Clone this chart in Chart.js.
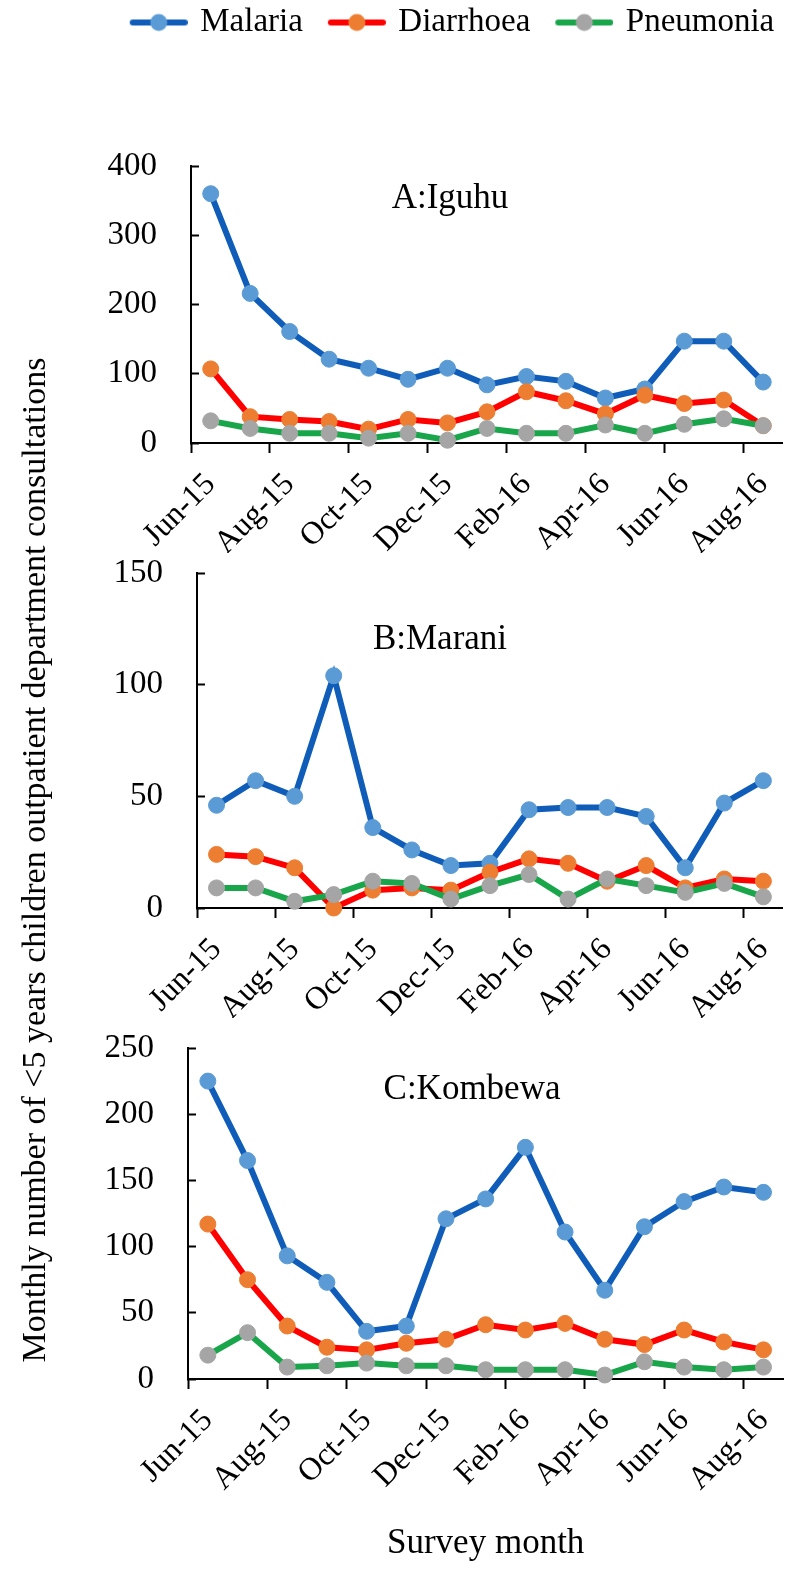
<!DOCTYPE html>
<html>
<head>
<meta charset="utf-8">
<title>Monthly outpatient consultations</title>
<script src="https://cdn.jsdelivr.net/npm/chart.js@4.4.0/dist/chart.umd.min.js"></script>
<style>
  html, body { margin: 0; padding: 0; background: #fff; }
  #page { position: relative; width: 804px; height: 1581px; overflow: hidden; }
  #page canvas { position: absolute; left: 0; top: 0; }
  #yTitle {
    position: absolute; left: -515px; top: 840px; width: 1100px; height: 40px;
    line-height: 40px; text-align: center; white-space: nowrap; color: #000;
    font: 34px "Liberation Serif", "Times New Roman", serif;
    transform: rotate(-90deg);
  }
</style>
</head>
<body>
<div id="page">
  <canvas id="chartA" width="804" height="1581"></canvas>
  <canvas id="chartB" width="804" height="1581"></canvas>
  <canvas id="chartC" width="804" height="1581"></canvas>
  <div id="yTitle">Monthly number of &lt;5 years children outpatient department consultations</div>
</div>
<script>
// Data
const months = ["Jun-15", "Jul-15", "Aug-15", "Sep-15", "Oct-15", "Nov-15", "Dec-15", "Jan-16",
  "Feb-16", "Mar-16", "Apr-16", "May-16", "Jun-16", "Jul-16", "Aug-16"];
const seriesNames = ["Malaria", "Diarrhoea", "Pneumonia"];

const iguhuMalaria = [360, 216, 161, 121, 108, 92, 108, 84, 96, 89, 65, 78, 147, 147, 88];
const iguhuDiarrhoea = [107, 38, 34, 31, 20, 34, 29, 45, 74, 61, 42, 69, 57, 62, 25];
const iguhuPneumonia = [32, 21, 14, 14, 7, 14, 4, 21, 14, 14, 26, 14, 27, 35, 25];

const maraniMalaria = [46, 57, 50, 104, 36, 26, 19, 20, 44, 45, 45, 41, 18, 47, 57];
const maraniDiarrhoea = [24, 23, 18, 0, 8, 9, 8, 16, 22, 20, 12, 19, 9, 13, 12];
const maraniPneumonia = [9, 9, 3, 6, 12, 11, 4, 10, 15, 4, 13, 10, 7, 11, 5];

const kombewaMalaria = [225, 165, 93, 73, 36, 40, 121, 136, 175, 111, 67, 115, 134, 145, 141];
const kombewaDiarrhoea = [117, 75, 40, 24, 22, 27, 30, 41, 37, 42, 30, 26, 37, 28, 22];
const kombewaPneumonia = [18, 35, 9, 10, 12, 10, 10, 7, 7, 7, 3, 13, 9, 7, 9];

// Styles
const lineColors = ["#0F5DB8", "#FF0000", "#19A64A"];
const markerColors = ["#5B9BD5", "#ED7D31", "#A5A5A5"];
const serif = '"Liberation Serif", "Times New Roman", serif';

Chart.defaults.font.family = serif;
Chart.defaults.color = "#000";

// legend symbol: line with a marker in the middle
function legendIcon(k) {
  const c = document.createElement("canvas");
  c.width = 81;
  c.height = 20;
  const g = c.getContext("2d");
  g.strokeStyle = lineColors[k];
  g.lineWidth = 6;
  g.lineCap = "round";
  g.beginPath();
  g.moveTo(26, 10);
  g.lineTo(78, 10);
  g.stroke();
  g.fillStyle = markerColors[k];
  g.beginPath();
  g.arc(52, 10, 8.5, 0, Math.PI * 2);
  g.fill();
  return c;
}
const icons = [0, 1, 2].map(legendIcon);

// panel name inside the plot area
const panelLabel = {
  id: "panelLabel",
  beforeDatasetsDraw(chart, args, opts) {
    const ctx = chart.ctx;
    ctx.save();
    ctx.font = "35px " + serif;
    ctx.fillStyle = "#000";
    ctx.textAlign = "center";
    ctx.textBaseline = "middle";
    ctx.fillText(opts.text, opts.x, opts.y);
    ctx.restore();
  },
};

function series(k, data) {
  return {
    label: seriesNames[k],
    data: data,
    borderColor: lineColors[k],
    backgroundColor: markerColors[k],
    pointBackgroundColor: markerColors[k],
    pointBorderColor: markerColors[k],
    pointBorderWidth: 1,
    pointRadius: 8,
    borderWidth: 6,
    tension: 0,
    order: 3 - k,
    clip: false,
  };
}

const everyOther = (c) => (c.index % 2 === 0 && c.index < months.length ? "#000" : "rgba(0,0,0,0)");

function drawPanel(id, p) {
  return new Chart(document.getElementById(id), {
    type: "line",
    data: {
      labels: months,
      datasets: [series(0, p.malaria), series(1, p.diarrhoea), series(2, p.pneumonia)],
    },
    options: {
      responsive: false,
      animation: false,
      events: [],
      devicePixelRatio: 1,
      layout: { padding: p.padding },
      plugins: {
        tooltip: { enabled: false },
        legend: {
          display: !!p.legend,
          position: "top",
          labels: {
            usePointStyle: true,
            pointStyleWidth: 73,
            padding: 6,
            color: "#000",
            font: { size: 33 },
            generateLabels: (chart) =>
              Chart.defaults.plugins.legend.labels.generateLabels(chart).map((item) =>
                Object.assign(item, { pointStyle: icons[item.datasetIndex] })),
            sort: (a, b) => a.datasetIndex - b.datasetIndex,
          },
        },
        // empty title used as a spacer between legend and plot
        title: {
          display: !!p.legend,
          text: "",
          weight: 500,
          font: { size: 10 },
          padding: { top: 0, bottom: 105 },
        },
        panelLabel: p.label,
      },
      scales: {
        x: {
          type: "category",
          offset: true,
          ticks: {
            autoSkip: false,
            minRotation: 45,
            maxRotation: 45,
            padding: 13,
            color: "#000",
            font: { size: 32 },
            callback: function (v, i) {
              return i % 2 === 0 ? this.getLabelForValue(v) : "";
            },
          },
          grid: {
            offset: true,
            drawOnChartArea: false,
            tickLength: 10,
            tickWidth: 2,
            color: everyOther,
            tickColor: everyOther,
          },
          border: { display: true, color: "#000", width: 2 },
          title: {
            display: !!p.xTitle,
            text: "Survey month",
            color: "#000",
            font: { size: 35 },
            padding: { top: 0, bottom: 0 },
          },
          afterFit: (s) => { s.height = p.xHeight; },
        },
        y: {
          min: 0,
          max: p.yMax,
          ticks: { stepSize: p.yStep, padding: 42, color: "#000", font: { size: 33 } },
          grid: { drawOnChartArea: false, tickLength: -8, tickWidth: 2, color: "#000" },
          border: { display: true, color: "#000", width: 2 },
          afterFit: (s) => { s.width = p.yWidth; },
        },
      },
    },
    plugins: [panelLabel],
  });
}

// A: Iguhu
drawPanel("chartA", {
  malaria: iguhuMalaria,
  diarrhoea: iguhuDiarrhoea,
  pneumonia: iguhuPneumonia,
  yMax: 400,
  yStep: 100,
  legend: true,
  xHeight: 110,
  yWidth: 91,
  padding: { top: 0, left: 100, right: 19, bottom: 1028 },
  label: { text: "A:Iguhu", x: 450, y: 199 },
});

// B: Marani
drawPanel("chartB", {
  malaria: maraniMalaria,
  diarrhoea: maraniDiarrhoea,
  pneumonia: maraniPneumonia,
  yMax: 150,
  yStep: 50,
  xHeight: 110,
  yWidth: 100,
  padding: { top: 573, left: 97, right: 14, bottom: 563 },
  label: { text: "B:Marani", x: 440, y: 640 },
});

// C: Kombewa
drawPanel("chartC", {
  malaria: kombewaMalaria,
  diarrhoea: kombewaDiarrhoea,
  pneumonia: kombewaPneumonia,
  yMax: 250,
  yStep: 50,
  xTitle: true,
  xHeight: 186,
  yWidth: 100,
  padding: { top: 1048, left: 88, right: 10, bottom: 16 },
  label: { text: "C:Kombewa", x: 472, y: 1090 },
});
</script>
</body>
</html>
